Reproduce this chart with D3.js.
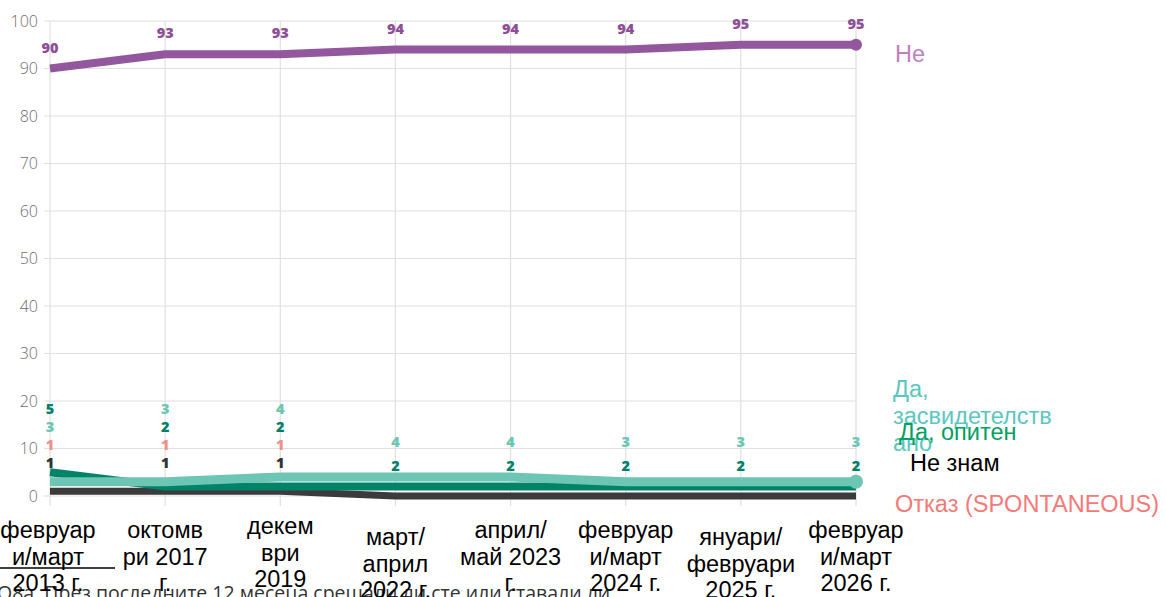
<!DOCTYPE html>
<html>
<head>
<meta charset="utf-8">
<script src="https://cdn.jsdelivr.net/npm/d3@7"></script>
<style>
  body { margin: 0; background: #fff; overflow: hidden; }
  svg { display: block; }
</style>
</head>
<body>
<div id="container"></div>
<script>
// chart data
var categories = [
  ["февруар", "и/март", "2013 г."],
  ["октомв", "ри 2017", "г."],
  ["декем", "ври", "2019"],
  ["март/", "април", "2022 г."],
  ["април/", "май 2023", "г."],
  ["февруар", "и/март", "2024 г."],
  ["януари/", "февруари", "2025 г."],
  ["февруар", "и/март", "2026 г."]
];
var ne        = [90, 93, 93, 94, 94, 94, 95, 95];
var daSvid    = [3, 3, 4, 4, 4, 3, 3, 3];
var daOpiten  = [5, 2, 2, 2, 2, 2, 2, 2];
var neZnam    = [1, 1, 1, 0, 0, 0, 0, 0];
var otkaz     = [1, 1, 1, 0, 0, 0, 0, 0];
var yTicks    = [0, 10, 20, 30, 40, 50, 60, 70, 80, 90, 100];
var question  = "Q8a. През последните 12 месеца срещали ли сте или ставали ли";

var w = 1166, h = 597;

var svg = d3.select("div#container")
  .append("svg")
  .attr("width", w)
  .attr("height", h);

var x = d3.scalePoint()
  .domain(d3.range(categories.length))
  .range([50, 856]);

var y = d3.scaleLinear()
  .domain([0, 100])
  .range([496, 21]);

// grid
var grid = svg.append("g");
grid.selectAll("line.h")
  .data(yTicks)
  .enter().append("line")
  .attr("x1", 44).attr("x2", 856)
  .attr("y1", function(d) { return y(d); })
  .attr("y2", function(d) { return y(d); })
  .attr("stroke", "#e0e0e0").attr("stroke-width", 1.2);

grid.selectAll("line.v")
  .data(categories)
  .enter().append("line")
  .attr("x1", function(d, i) { return x(i); })
  .attr("x2", function(d, i) { return x(i); })
  .attr("y1", y(100)).attr("y2", 506)
  .attr("stroke", "#e0e0e0").attr("stroke-width", 1.2);

// y axis labels
svg.append("g")
  .attr("transform", "translate(38,0)")
  .call(d3.axisLeft(y).tickValues(yTicks).tickSize(0).tickPadding(0))
  .call(function(g) { g.select(".domain").remove(); })
  .selectAll("text")
  .attr("fill", "#6e6e6e")
  .attr("font-family", "'Open Sans', sans-serif")
  .attr("font-weight", 300)
  .attr("font-size", 16)
  .attr("dy", "0.33em");

// series, drawn from bottom to top
var series = [
  { name: "Отказ (SPONTANEOUS)", values: otkaz, color: "#f28a86", width: 5, labelColor: "#f4908b", legColor: "#f47a78" },
  { name: "Не знам", values: neZnam, color: "#3d3a3c", width: 7, labelColor: "#333", legColor: "#000" },
  { name: "Да, опитен", values: daOpiten, color: "#008367", width: 8, labelColor: "#00806a", legColor: "#00a060" },
  { name: "Да, засвидетелствано", values: daSvid, color: "#6cc6b3", width: 9, labelColor: "#6cc6b3", legColor: "#5cc6c0", dot: 7 },
  { name: "Не", values: ne, color: "#93579d", width: 8, labelColor: "#8e4f96", legColor: "#c17fbf", dot: 6 }
];

var line = d3.line()
  .x(function(d, i) { return x(i); })
  .y(function(d) { return y(d); });

series.forEach(function(s) {
  if (d3.max(s.values) === 0) return;
  svg.append("path")
    .datum(s.values)
    .attr("d", line)
    .attr("fill", "none")
    .attr("stroke", s.color)
    .attr("stroke-width", s.width)
    .attr("stroke-linejoin", "round");
  if (s.dot) {
    svg.append("circle")
      .attr("cx", x(s.values.length - 1))
      .attr("cy", y(s.values[s.values.length - 1]))
      .attr("r", s.dot)
      .attr("fill", s.color);
  }
});

// value labels: "Не" above its line, small series stacked above the bottom lines
var labFont = "'Open Sans', sans-serif";
svg.append("g").selectAll("text")
  .data(ne)
  .enter().append("text")
  .attr("x", function(d, i) { return x(i); })
  .attr("y", function(d) { return y(d) - 21; })
  .attr("dy", "0.35em")
  .attr("text-anchor", "middle")
  .attr("font-family", labFont)
  .attr("font-weight", 800)
  .attr("font-size", 14.5)
  .attr("fill", "#8e4f96")
  .text(function(d) { return d; });

var small = series.slice(0, 4);
categories.forEach(function(c, i) {
  var items = small
    .map(function(s, k) { return { s: s, v: s.values[i], k: k }; })
    .filter(function(o) { return o.v > 0; })
    .sort(function(a, b) { return a.v - b.v || b.k - a.k; });
  var many = items.length > 2;
  var base = y(items[0].v) - (many ? 28 : 21);
  var step = many ? 18 : 24;
  items.forEach(function(o, j) {
    svg.append("text")
      .attr("x", x(i))
      .attr("y", base - j * step)
      .attr("dy", "0.35em")
      .attr("text-anchor", "middle")
      .attr("font-family", labFont)
      .attr("font-weight", 800)
      .attr("font-size", 14.5)
      .attr("fill", o.s.labelColor)
      .text(o.v);
  });
});

// legend labels on the right
var legFont = "'Liberation Sans', Arial, sans-serif";
var legend = [
  { s: series[4], lines: ["Не"], x: 895, y: 54 },
  { s: series[3], lines: ["Да,", "засвидетелств", "ано"], x: 893, y: 389 },
  { s: series[2], lines: ["Да, опитен"], x: 899, y: 432 },
  { s: series[1], lines: ["Не знам"], x: 910, y: 463 },
  { s: series[0], lines: ["Отказ (SPONTANEOUS)"], x: 895, y: 504 }
];
legend.forEach(function(l) {
  var t = svg.append("text")
    .attr("font-family", legFont)
    .attr("font-size", 23.5)
    .attr("fill", l.s.legColor);
  l.lines.forEach(function(ln, j) {
    t.append("tspan")
      .attr("x", l.x)
      .attr("y", l.y + j * 27)
      .attr("dy", "0.35em")
      .text(ln);
  });
});

// bottom question text (partly hidden under category labels)
svg.append("text")
  .attr("x", -3)
  .attr("y", 600)
  .attr("font-family", "'Open Sans', sans-serif")
  .attr("font-size", 19.5)
  .attr("fill", "#333")
  .text(question);

// category labels
var xl = svg.append("g");
categories.forEach(function(c, i) {
  var t = xl.append("text")
    .attr("text-anchor", "middle")
    .attr("font-family", legFont)
    .attr("font-size", 23.5)
    .attr("fill", "#000");
  var top = (i === 3 || i === 6) ? 537 : (i === 2 ? 526 : 530);
  c.forEach(function(ln, j) {
    t.append("tspan")
      .attr("x", i === 0 ? 48 : x(i))
      .attr("y", top + j * 26.5)
      .attr("dy", "0.35em")
      .text(ln);
  });
});

// stray underline below the first category label
xl.append("line")
  .attr("x1", 0).attr("x2", 115)
  .attr("y1", 568).attr("y2", 568)
  .attr("stroke", "#000").attr("stroke-width", 1.5);
</script>
</body>
</html>
